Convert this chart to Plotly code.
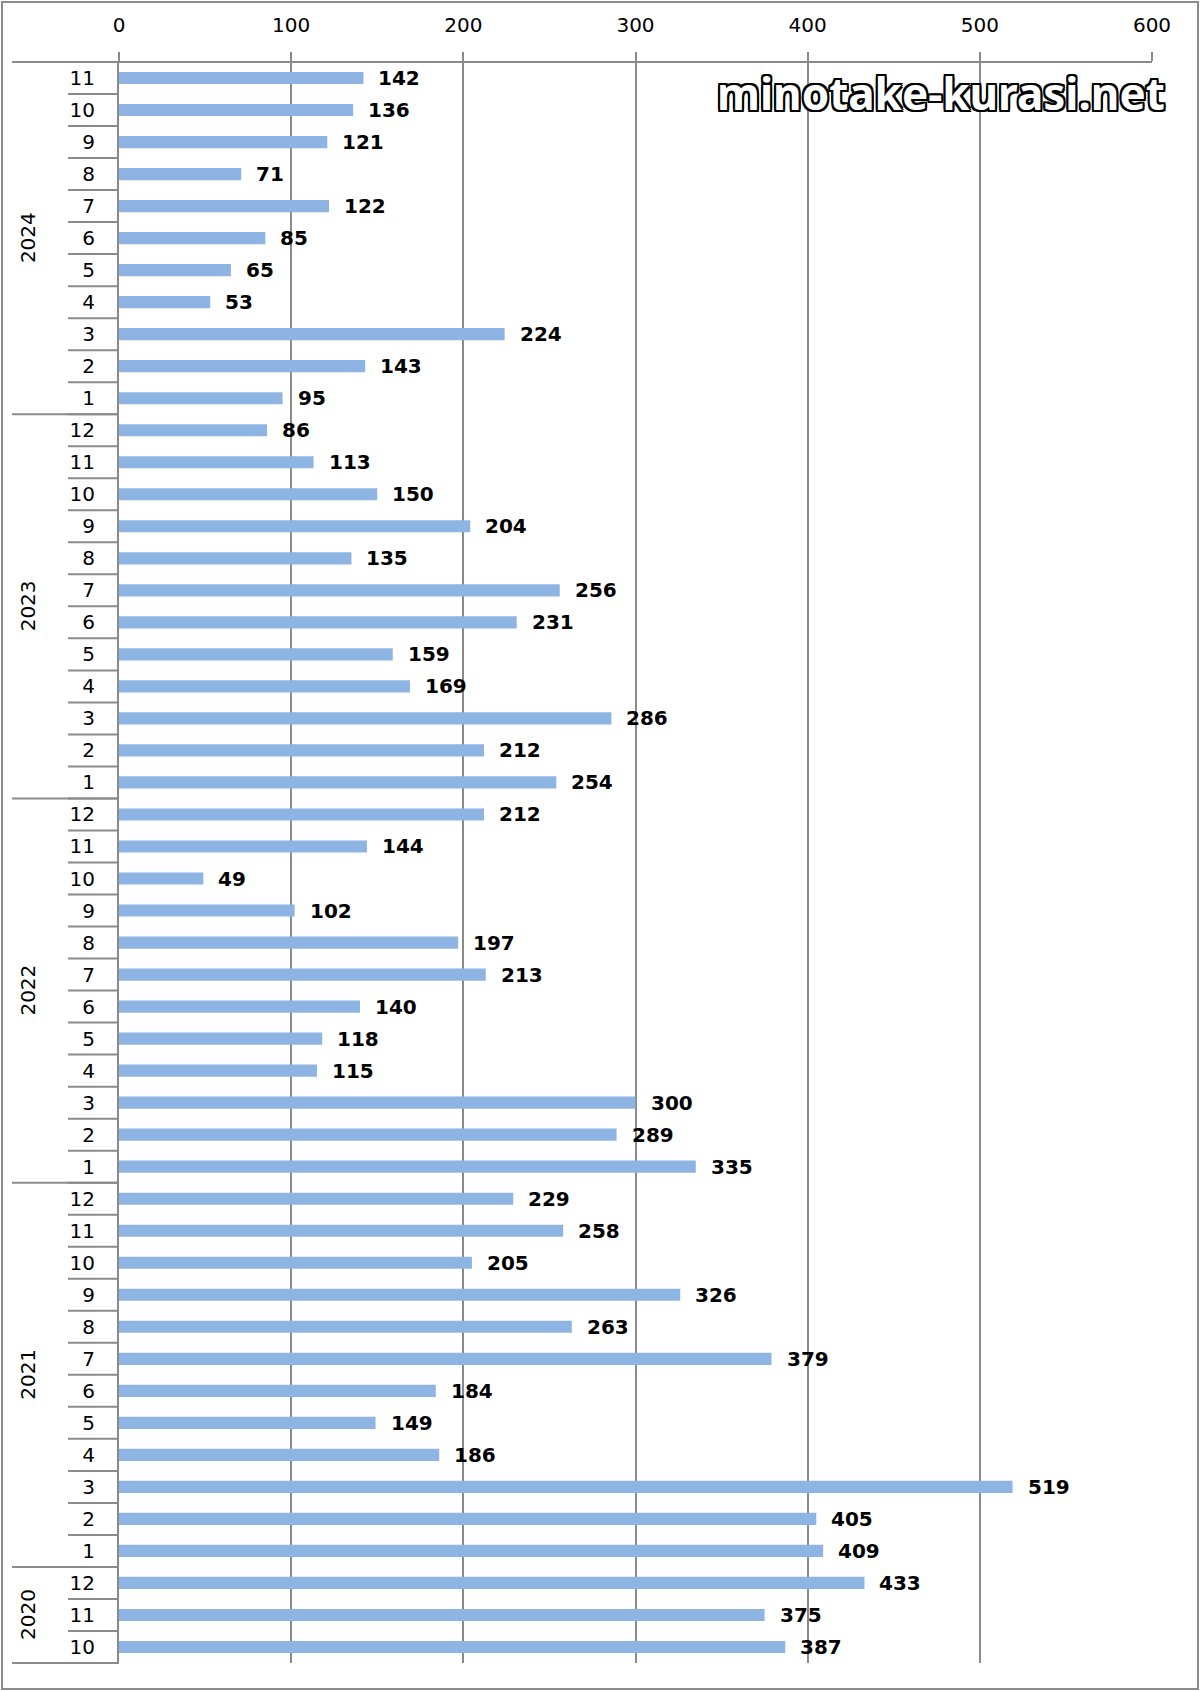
import plotly.graph_objects as go

# ---- data ----
years = ["2020", "2021", "2022", "2023", "2024"]
months_2020 = [10, 11, 12]
months_2021 = [1, 2, 3, 4, 5, 6, 7, 8, 9, 10, 11, 12]
months_2022 = [1, 2, 3, 4, 5, 6, 7, 8, 9, 10, 11, 12]
months_2023 = [1, 2, 3, 4, 5, 6, 7, 8, 9, 10, 11, 12]
months_2024 = [1, 2, 3, 4, 5, 6, 7, 8, 9, 10, 11]
values_2020 = [387, 375, 433]
values_2021 = [409, 405, 519, 186, 149, 184, 379, 263, 326, 205, 258, 229]
values_2022 = [335, 289, 300, 115, 118, 140, 213, 197, 102, 49, 144, 212]
values_2023 = [254, 212, 286, 169, 159, 231, 256, 135, 204, 150, 113, 86]
values_2024 = [95, 143, 224, 53, 65, 85, 122, 71, 121, 136, 142]
x_ticks = [0, 100, 200, 300, 400, 500, 600]
watermark = "minotake-kurasi.net"

month_groups = [months_2020, months_2021, months_2022, months_2023, months_2024]
value_groups = [values_2020, values_2021, values_2022, values_2023, values_2024]

# flatten (chronological, bottom -> top)
labels, vals, yidx = [], [], []
group_ranges = []
i = 0
for yr, ms, vs in zip(years, month_groups, value_groups):
    start = i
    for m, v in zip(ms, vs):
        labels.append(str(m))
        vals.append(v)
        yidx.append(i)
        i += 1
    group_ranges.append((yr, start, i - 1))
n = len(vals)

GRID = "#8a8a8a"
FONT = "DejaVu Sans"
FS = 20
W, H = 1200, 1691
ml, mr, mt, mb = 119, 48, 62, 28
pw = W - ml - mr
ph = H - mt - mb

def px_to_paper_x(px):
    return (px - ml) / pw

def px_to_paper_y(py):
    return 1 - (py - mt) / ph

fig = go.Figure()
fig.add_trace(go.Bar(
    x=vals, y=yidx, orientation="h",
    marker=dict(color="#8DB4E2", line=dict(width=0)),
    width=0.38, hoverinfo="x+y",
))

annotations = []
# data labels
for v, yi in zip(vals, yidx):
    annotations.append(dict(
        x=v, y=yi, xref="x", yref="y", text=str(v), showarrow=False,
        xanchor="left", yanchor="middle", xshift=13,
        font=dict(family=FONT, size=FS, color="#000000", weight="bold"),
    ))
# year labels
for yr, s, e in group_ranges:
    annotations.append(dict(
        x=px_to_paper_x(28), y=(s + e) / 2, xref="paper", yref="y",
        text=yr, showarrow=False, textangle=-90,
        xanchor="center", yanchor="middle",
        font=dict(family=FONT, size=FS, color="#000000"),
    ))
# watermark
annotations.append(dict(
    x=px_to_paper_x(1167), y=px_to_paper_y(93), xref="paper", yref="paper",
    text=watermark, showarrow=False, xanchor="right", yanchor="middle",
    font=dict(family="Noto Sans", size=44, color="#ffffff", weight="bold",
              shadow="2px 2px 0 #000, -2px -2px 0 #000, 2px -2px 0 #000, -2px 2px 0 #000, 0 2px 0 #000, 0 -2px 0 #000, 2px 0 0 #000, -2px 0 0 #000"),
))

shapes = []
lc = dict(color=GRID, width=2)
# month separators
for k in range(n - 1):
    shapes.append(dict(type="line", xref="paper", yref="y",
                       x0=px_to_paper_x(68), x1=0, y0=k + 0.5, y1=k + 0.5, line=lc))
# year separators
for yr, s, e in group_ranges[:-1]:
    shapes.append(dict(type="line", xref="paper", yref="y",
                       x0=px_to_paper_x(12), x1=0, y0=e + 0.5, y1=e + 0.5, line=lc))
# top line and bottom line
shapes.append(dict(type="line", xref="paper", yref="paper",
                   x0=px_to_paper_x(12), x1=1, y0=1, y1=1, line=lc))
shapes.append(dict(type="line", xref="paper", yref="paper",
                   x0=px_to_paper_x(12), x1=0, y0=0, y1=0, line=lc))
# outer frame
shapes.append(dict(type="rect", xref="paper", yref="paper",
                   x0=px_to_paper_x(2), x1=px_to_paper_x(1198),
                   y0=px_to_paper_y(1689), y1=px_to_paper_y(2),
                   line=dict(color="#8c8c8c", width=2)))

fig.update_layout(
    width=W, height=H,
    margin=dict(l=ml, r=mr, t=mt, b=mb, pad=0),
    paper_bgcolor="white", plot_bgcolor="white",
    showlegend=False, bargap=0.6,
    annotations=annotations, shapes=shapes,
    font=dict(family=FONT, size=FS, color="#000000"),
    xaxis=dict(
        side="top", range=[0, 600], tickvals=x_ticks,
        ticktext=[str(t) for t in x_ticks],
        showgrid=True, gridcolor=GRID, gridwidth=2,
        zeroline=False, showline=False,
        ticks="outside", ticklen=9, tickwidth=2, tickcolor=GRID,
        ticklabelstandoff=12,
        tickfont=dict(family=FONT, size=FS, color="#000000"),
        fixedrange=True,
    ),
    yaxis=dict(
        range=[-0.5, n - 0.5], tickvals=yidx, ticktext=labels,
        showgrid=False, zeroline=False,
        showline=True, linecolor=GRID, linewidth=2,
        ticks="", ticklabelstandoff=18,
        tickfont=dict(family=FONT, size=FS, color="#000000"),
        fixedrange=True,
    ),
)

fig.write_html("out.html", config={"displayModeBar": False},
               post_script="document.body.style.margin='0';")
